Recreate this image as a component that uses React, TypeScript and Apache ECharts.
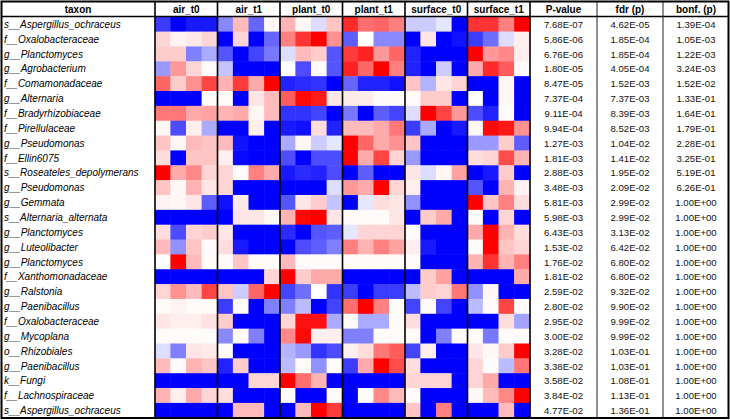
import React, { useEffect, useRef } from 'react';
import * as echarts from 'echarts';

const TAXA = [
  's__Aspergillus_ochraceus', 'f__Oxalobacteraceae', 'g__Planctomyces', 'g__Agrobacterium',
  'f__Comamonadaceae', 'g__Alternaria', 'f__Bradyrhizobiaceae', 'f__Pirellulaceae',
  'g__Pseudomonas', 'f__Ellin6075', 's__Roseateles_depolymerans', 'g__Pseudomonas',
  'g__Gemmata', 's__Alternaria_alternata', 'g__Planctomyces', 'g__Luteolibacter',
  'g__Planctomyces', 'f__Xanthomonadaceae', 'g__Ralstonia', 'g__Paenibacillus',
  'f__Oxalobacteraceae', 'g__Mycoplana', 'o__Rhizobiales', 'g__Paenibacillus',
  'k__Fungi', 'f__Lachnospiraceae', 's__Aspergillus_ochraceus',
];

const PVALUE = [
  '7.68E-07', '5.86E-06', '6.76E-06', '1.80E-05', '8.47E-05', '7.37E-04', '9.11E-04', '9.94E-04',
  '1.27E-03', '1.81E-03', '2.88E-03', '3.48E-03', '5.81E-03', '5.98E-03', '6.43E-03', '1.53E-02',
  '1.76E-02', '1.81E-02', '2.59E-02', '2.80E-02', '2.95E-02', '3.00E-02', '3.28E-02', '3.38E-02',
  '3.58E-02', '3.84E-02', '4.77E-02',
];
const FDR = [
  '4.62E-05', '1.85E-04', '1.85E-04', '4.05E-04', '1.52E-03', '7.37E-03', '8.39E-03', '8.52E-03',
  '1.04E-02', '1.41E-02', '1.95E-02', '2.09E-02', '2.99E-02', '2.99E-02', '3.13E-02', '6.42E-02',
  '6.80E-02', '6.80E-02', '9.32E-02', '9.90E-02', '9.99E-02', '9.99E-02', '1.03E-01', '1.03E-01',
  '1.08E-01', '1.13E-01', '1.36E-01',
];
const BONF = [
  '1.39E-04', '1.05E-03', '1.22E-03', '3.24E-03', '1.52E-02', '1.33E-01', '1.64E-01', '1.79E-01',
  '2.28E-01', '3.25E-01', '5.19E-01', '6.26E-01', '1.00E+00', '1.00E+00', '1.00E+00', '1.00E+00',
  '1.00E+00', '1.00E+00', '1.00E+00', '1.00E+00', '1.00E+00', '1.00E+00', '1.00E+00', '1.00E+00',
  '1.00E+00', '1.00E+00', '1.00E+00',
];

const GROUPS = ['air_t0', 'air_t1', 'plant_t0', 'plant_t1', 'surface_t0', 'surface_t1'];
const SAMPLES = [
  'air_t0_1', 'air_t0_2', 'air_t0_3', 'air_t0_4',
  'air_t1_1', 'air_t1_2', 'air_t1_3', 'air_t1_4',
  'plant_t0_1', 'plant_t0_2', 'plant_t0_3', 'plant_t0_4',
  'plant_t1_1', 'plant_t1_2', 'plant_t1_3', 'plant_t1_4',
  'surface_t0_1', 'surface_t0_2', 'surface_t0_3', 'surface_t0_4',
  'surface_t1_1', 'surface_t1_2', 'surface_t1_3', 'surface_t1_4',
];

// relative abundance (row-scaled), one row per taxon, 24 samples
const HEAT = [
  [-2.3, -3, -2.7, -2.7, -1.4, 0.8, -1.8, 0.1, 0.9, 0.1, -0.4, 0.7, 2.5, 1.7, 1.8, 1.5, -0.6, -0.6, -0.3, -3, 2.4, 2.4, 1.5, 3],
  [0.5, 0.15, 0.25, 0.5, -3, 0.5, -3, -1.8, 1.5, 2.4, 3, 1.3, -1.9, 0, -1.4, -1.4, -3, 0.3, -3, -2.8, -2.3, -1.7, -0.4, 0.2],
  [0.6, 0.6, -1.5, -1.0, -2, -3, -2.2, -1.6, -0.4, 0.8, 0.6, -2, 2.3, 2.6, 1.2, 1.8, -2.6, -3, -3, -3, 3, 1.2, 1.4, 0.2],
  [-1.2, 1.2, 0.5, 0.05, -0.7, -3, -3, -3, 0, -2.1, 0.05, -2, 2.6, 1.8, 3, 1.5, -2.6, -3, -0.6, -3, 1.0, 2.5, 1.9, 0.05],
  [1.8, 0.6, 1.3, 2.2, 0.9, 2.3, 1.0, 3, -2.6, -2.5, -2.4, -3, -1.8, -2.6, -2.6, -2.8, 0.7, -0.9, 0.3, 0.5, -3, -3, 0.1, -3],
  [-3, -3, -3, 0.05, 0.05, -3, 0.3, 0.8, 1.9, 2.9, 2.7, 0.3, 0.25, 0.25, 0.05, 0.05, 0.05, 0.6, 0.6, -3, 0, -3, 0.1, -3],
  [1.6, 1.6, 1.0, 1.1, 0.9, 1.0, 0.1, 0.8, -2.4, -2.4, -2.2, -3, -1.6, -3, -1.9, -2.2, -0.4, 3, 2.2, 1.2, -2.1, -2.6, 0.05, -3],
  [0.1, -2.1, 0.2, -1.0, -3, -3, 0.2, -3, -2.7, -2.8, 0.4, -2.6, 0.8, 0.8, 1.0, 1.6, -2.3, -1.0, -3, -2.7, 0.1, 2.9, 2.7, 1.3],
  [0.7, 0.1, 0.8, 0.7, 0.8, -2.8, -3, -3, -1.0, 0.1, -0.6, -0.3, 3, 1.8, 1.0, 1.3, 0.7, -3, -3, -3, -1.2, -1.2, 0.6, -1.9],
  [0.4, -3, 0.7, 0.7, 0.2, -2.9, -3, -3, -2.1, -3, -2.1, -2.1, 3, 1.0, 2.2, 0.5, -1.2, -3, -3, -3, 0.4, 0.5, 2.1, 0.9],
  [3, 1.0, 1.4, 0.5, 0.5, 0.05, 1.5, 1.0, -2.7, -2.5, -2.6, -2.1, -3, -1.9, -3, -3, 0.3, -0.4, 0.1, 1.1, -3, -2.7, 0.6, -3],
  [0.7, 0.1, 0.9, 0.3, 0.5, -3, -3, -3, -3, -3, -3, -0.4, 1.2, 1.0, 3, 0.5, 0.2, -3, -3, -3, -2, -3, 0.9, 0.15],
  [0.15, 0.1, 0.3, -1.9, -2.8, 0.25, -3, -3, -2, 0.3, 0.6, -0.7, -3, -0.3, 0.4, 0.3, -1.3, -3, -3, -3, 3, 0.7, 1.5, 0.4],
  [-3, -3, -3, -3, -3, 0.3, 0.3, 0.1, 0.9, 2.9, 3, 0.3, 0.05, 0.05, 0.05, 0.3, -3, 0.6, 1.0, -3, 0.05, -3, 0.5, -3],
  [0.4, -2.1, 0.5, 0.6, 0.3, -3, -3, -3, -2.5, -3, -2, -1.9, -0.3, 0.5, 0.5, 0.5, 0.05, -3, -3, -3, 1.0, 3, 0.9, 0.4],
  [0.8, -1.3, 0.7, 0.05, 0.4, -2.7, -3, -3, -3, -2.1, -1.9, -1.5, 1.5, 0.9, 1.5, 1.1, 0.2, -2.7, -3, -3, 0.05, 3, 0.7, 0.5],
  [0, 3, 0.8, 0.05, 0.05, 0.7, 0.05, 0.05, 0.8, 0.05, 0.05, 0.05, 0.05, 0.05, 0.05, 0.05, 0.05, -3, -3, -3, 0.9, 2.4, 0.9, 1.5],
  [-3, -3, -3, -3, -3, -3, -3, 0.5, 3, 0.6, 1.0, 1.0, -3, -3, -3, -3, -3, 0.6, 1.1, -3, -3, -3, -3, 1.0],
  [0.5, 1.3, 0.8, 2.2, 0.7, -0.6, 1.8, 3, -2.2, -1.7, 0, -2.4, -2.3, -3, -2.3, -2.3, -0.8, 0.6, 0.5, 1.6, -1.3, 0.1, -3, -3],
  [0.05, 0.15, 0.05, 0.05, -2.3, 0.05, -3, -1.5, -1.5, -0.8, -3, -2.2, 1.7, 3, 1.5, 0.05, -2.2, 0.05, -2.2, -3, -0.8, 0.05, 2.2, 0.05],
  [0.3, 0.2, 0.2, 0.35, 0.6, -3, -3, -3, 0.5, 2.8, 2.8, -1.0, 0.05, -1.0, -1.0, 0.05, 0.4, -3, -3, -3, -3, -3, 0.4, -1.1],
  [0.05, 0.05, 0.05, 0.05, -1.4, 0.05, -1.5, -3, 1.4, 2.9, 0.2, 0.2, -1.5, -1.5, 0.05, 0.05, 0.05, -3, -1.5, 0.05, 0.05, -1.6, 0.05, 0.05],
  [-0.4, -1.5, 0.3, 0.25, 0.05, -3, -3, -3, -0.9, -1.2, -2.4, -2.1, 0.2, 0.4, 1.6, 1.9, -2.2, 0.2, -3, -3, 0.3, 0.1, 0.6, 3],
  [0.8, 0.05, 0.9, 0.7, -2.6, 0.6, -3, -3, -0.8, 0.05, -1.3, 0.05, -2.3, 1.0, 3, 2.1, 0.4, -3, -3, -3, 0.5, 0.05, -0.8, 1.6],
  [-3, -3, -3, -3, -3, -3, 0.5, 0.5, 3, 1.7, 0.9, -3, -3, -3, -3, -3, 0.5, 0.5, 0.5, -3, 0.5, 1.0, -3, -3],
  [0.9, 0.2, 1.0, 0.5, 0.4, -3, -3, -3, 0.05, -3, -3, 0.05, -3, 0.05, 1.4, 0.8, 0.05, -3, -3, -3, 0.1, 0.8, 1.4, 3],
  [-3, -3, -3, -3, -3, 0.8, 0.8, -3, -3, 0.8, 3, 2.3, -3, -3, -3, -3, 0.7, -3, 1.5, -3, -3, -3, 0.8, -3],
];

const FONT = '"Liberation Sans", Arial, sans-serif';

export default function App() {
  const ref = useRef<HTMLDivElement>(null);

  useEffect(() => {
    if (!ref.current) return;
    const chart = echarts.init(ref.current, null, { renderer: 'svg' });

    const data: number[][] = [];
    HEAT.forEach((row, r) => row.forEach((v, c) => data.push([c, r, v])));

    const gl = 155, gt = 17, gw = 375, gh = 401;
    const right = gl + gw;
    const groupW = gw / GROUPS.length;
    const lines: any[] = [];
    for (let k = 0; k <= GROUPS.length; k++) {
      const x = gl + k * groupW;
      lines.push({ type: 'line', z: 100, shape: { x1: x, y1: 1, x2: x, y2: 418 }, style: { stroke: '#000', lineWidth: 1.6 } });
    }
    [597, 663].forEach((x) => {
      lines.push({ type: 'line', z: 100, shape: { x1: x, y1: 1, x2: x, y2: 418 }, style: { stroke: '#222', lineWidth: 1 } });
    });
    lines.push({ type: 'line', z: 100, shape: { x1: 1, y1: 16.5, x2: 729, y2: 16.5 }, style: { stroke: '#000', lineWidth: 1.6 } });
    lines.push({ type: 'rect', z: 101, shape: { x: 1.5, y: 1.5, width: 727, height: 416.5 }, style: { fill: 'none', stroke: '#000', lineWidth: 2 } });

    const headers = [
      { text: 'taxon', x: (1 + gl) / 2 },
      { text: 'P-value', x: (right + 597) / 2 },
      { text: 'fdr (p)', x: (597 + 663) / 2 },
      { text: 'bonf. (p)', x: (663 + 729) / 2 },
    ].map((h) => ({
      type: 'text', z: 100, x: h.x, y: 9,
      style: { text: h.text, fill: '#000', font: `bold 10px ${FONT}`, textAlign: 'center', textVerticalAlign: 'middle' },
    }));

    const rightAxis = (labels: string[], margin: number) => ({
      type: 'category', position: 'right', inverse: true, data: labels,
      axisLine: { show: false }, axisTick: { show: false }, splitLine: { show: false },
      axisLabel: { interval: 0, margin, align: 'center', fontSize: 9.6, color: '#111', fontFamily: FONT },
    });

    chart.setOption({
      animation: false,
      backgroundColor: '#fff',
      grid: { left: gl, top: gt, width: gw, height: gh },
      xAxis: [
        { type: 'category', data: SAMPLES, show: false },
        {
          type: 'category', data: GROUPS, position: 'top',
          axisLine: { show: false }, axisTick: { show: false }, splitLine: { show: false },
          axisLabel: { interval: 0, margin: 8, verticalAlign: 'middle', fontWeight: 'bold', fontSize: 10, color: '#000', fontFamily: FONT },
        },
      ],
      yAxis: [
        {
          type: 'category', position: 'left', inverse: true, data: TAXA,
          axisLine: { show: false }, axisTick: { show: false }, splitLine: { show: false },
          axisLabel: { interval: 0, margin: gl - 4, align: 'left', fontStyle: 'italic', fontSize: 10, color: '#000', fontFamily: FONT },
        },
        rightAxis(PVALUE, (597 - right) / 2),
        rightAxis(FDR, 597 - right + 33),
        rightAxis(BONF, 663 - right + 33),
      ],
      visualMap: {
        show: false, type: 'continuous', min: -3, max: 3, dimension: 2, seriesIndex: 0,
        inRange: { color: ['#0000ff', '#ffffff', '#ff0000'] },
      },
      series: [
        {
          type: 'heatmap', xAxisIndex: 0, yAxisIndex: 0, data,
          itemStyle: { borderWidth: 0 },
          emphasis: { disabled: true },
        },
      ],
      graphic: [...lines, ...headers],
    });

    return () => chart.dispose();
  }, []);

  return <div ref={ref} style={{ position: 'fixed', left: 0, top: 0, width: 730, height: 420 }} />;
}
